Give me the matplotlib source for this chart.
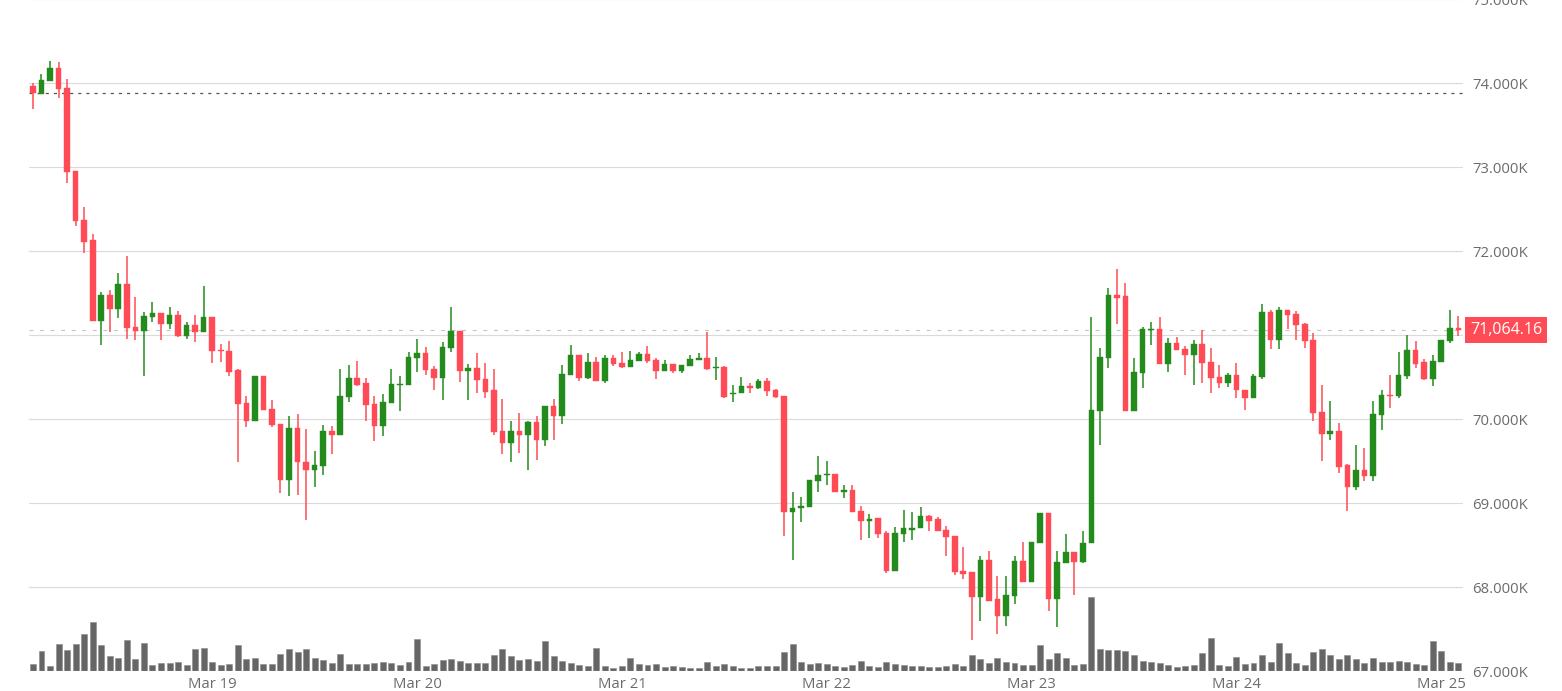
import matplotlib
matplotlib.use("Agg")
import matplotlib.pyplot as plt
import matplotlib.dates as mdates
import matplotlib.transforms as mtransforms
import numpy as np
import pandas as pd

plt.rcParams['font.family'] = ['Open Sans', 'DejaVu Sans']

# hourly candles, Mar 18 03:00 -> Mar 25 02:00
times = pd.date_range("2024-03-18 03:00", periods=168, freq="h")

opens = [73968, 73877, 74028, 74179, 73940, 72960, 72373, 72131, 71171, 71476,
         71310, 71607, 71100, 71052, 71222, 71270, 71139, 71246, 70996, 71123,
         71044, 71222, 70828, 70816, 70585, 70198, 69979, 70513, 70126, 69947,
         69272, 69895, 69496, 69400, 69448, 69855, 69815, 70266, 70497, 70433,
         70186, 69919, 70198, 70405, 70405, 70729, 70786, 70603, 70488, 70845,
         71048, 70571, 70611, 70480, 70345, 69861, 69714, 69857, 69814, 69964,
         69750, 70163, 70040, 70532, 70770, 70496, 70679, 70460, 70726, 70667,
         70622, 70690, 70773, 70709, 70578, 70658, 70578, 70634, 70701, 70725,
         70614, 70626, 70296, 70316, 70391, 70371, 70451, 70343, 70280, 68899,
         68942, 68954, 69269, 69336, 69347, 69139, 69155, 68908, 68789, 68821,
         68649, 68199, 68637, 68681, 68701, 68845, 68809, 68681, 68614, 68195,
         68179, 67880, 68323, 67861, 67653, 67896, 68319, 68060, 68526, 68885,
         67855, 68285, 68419, 68301, 68530, 70104, 70729, 71478, 71462, 70104,
         70546, 71064, 71080, 70662, 70904, 70841, 70761, 70896, 70682, 70502,
         70427, 70522, 70354, 70250, 70501, 71283, 70944, 71299, 71251, 71136,
         70944, 70086, 69831, 69863, 69452, 69189, 69400, 69324, 70050, 70294,
         70278, 70517, 70820, 70677, 70481, 70677, 70928, 71088]

highs = [74000, 74111, 74266, 74250, 74048, 72960, 72532, 72202, 71512, 71540,
         71738, 71944, 71460, 71282, 71393, 71270, 71337, 71286, 71163, 71246,
         71587, 71222, 70896, 70928, 70593, 70282, 70521, 70521, 70234, 69947,
         70035, 70066, 69883, 69620, 69931, 69915, 70593, 70649, 70689, 70493,
         70278, 70298, 70593, 70513, 70800, 70952, 70857, 70631, 70921, 71341,
         71048, 70659, 70786, 70667, 70599, 70238, 69976, 70075, 69984, 70044,
         70163, 70238, 70647, 70881, 70770, 70786, 70738, 70770, 70770, 70798,
         70813, 70801, 70869, 70725, 70709, 70658, 70642, 70769, 70793, 71036,
         70741, 70638, 70403, 70503, 70435, 70483, 70491, 70355, 70280, 69129,
         69078, 69277, 69559, 69504, 69347, 69223, 69223, 68964, 68869, 68821,
         68669, 68717, 68916, 68896, 68960, 68861, 68837, 68733, 68614, 68478,
         68179, 68371, 68438, 68131, 68131, 68371, 68538, 68538, 68885, 68885,
         68431, 68640, 68419, 68668, 71223, 70849, 71561, 71788, 71621, 70725,
         71099, 71159, 71215, 70964, 70976, 70873, 70944, 71060, 70853, 70650,
         70554, 70666, 70354, 70541, 71367, 71303, 71335, 71299, 71291, 71148,
         71024, 70409, 70222, 69955, 69472, 69695, 69655, 70222, 70350, 70533,
         70796, 71004, 70932, 70717, 70769, 70944, 71303, 71227]

lows = [73700, 73869, 74028, 73829, 72810, 72302, 71984, 71171, 70885, 71044,
        71210, 70960, 70949, 70512, 71163, 70949, 71080, 70976, 70960, 70921,
        71044, 70665, 70677, 70513, 69496, 69907, 69979, 70114, 69907, 69117,
        69085, 69101, 68805, 69193, 69342, 69588, 69815, 70210, 70393, 69975,
        69739, 69803, 70198, 70094, 70405, 70561, 70532, 70353, 70234, 70802,
        70444, 70226, 70317, 70254, 69817, 69591, 69488, 69603, 69393, 69520,
        69679, 69750, 69948, 70532, 70456, 70480, 70460, 70437, 70631, 70615,
        70622, 70690, 70670, 70483, 70578, 70554, 70554, 70634, 70701, 70590,
        70471, 70256, 70208, 70316, 70316, 70355, 70272, 70256, 68608, 68329,
        68783, 68954, 69133, 69217, 69135, 69060, 68896, 68566, 68582, 68582,
        68171, 68199, 68542, 68558, 68701, 68669, 68665, 68378, 68151, 68104,
        67378, 67594, 67841, 67442, 67542, 67805, 68060, 68060, 68526, 67720,
        67531, 68285, 67910, 68289, 68530, 69699, 70610, 71135, 70104, 70104,
        70375, 70881, 70662, 70566, 70825, 70522, 70407, 70431, 70315, 70375,
        70387, 70256, 70110, 70250, 70481, 70840, 70840, 71076, 70948, 70848,
        69979, 69500, 69759, 69360, 68913, 69157, 69260, 69264, 69871, 70134,
        70250, 70481, 70613, 70469, 70393, 70677, 70908, 70992]

closes = [73880, 74040, 74179, 73933, 72948, 72361, 72115, 71171, 71476, 71310,
          71607, 71091, 71052, 71230, 71270, 71139, 71246, 70992, 71123, 71044,
          71222, 70816, 70808, 70565, 70186, 69979, 70513, 70114, 69935, 69272,
          69895, 69488, 69400, 69460, 69855, 69815, 70282, 70497, 70413, 70174,
          69919, 70210, 70417, 70425, 70741, 70784, 70587, 70488, 70857, 71048,
          70575, 70611, 70468, 70329, 69849, 69714, 69861, 69814, 69964, 69750,
          70163, 70040, 70544, 70770, 70496, 70679, 70460, 70726, 70659, 70627,
          70701, 70773, 70690, 70578, 70658, 70578, 70642, 70713, 70725, 70602,
          70626, 70268, 70316, 70391, 70375, 70451, 70335, 70268, 68899, 68946,
          68966, 69277, 69340, 69348, 69135, 69155, 68896, 68785, 68817, 68637,
          68199, 68649, 68701, 68701, 68845, 68789, 68665, 68598, 68179, 68159,
          67880, 68323, 67841, 67653, 67904, 68319, 68060, 68538, 68885, 67855,
          68297, 68419, 68305, 68530, 70116, 70741, 71478, 71450, 70104, 70562,
          71076, 71080, 70662, 70904, 70829, 70761, 70896, 70670, 70495, 70427,
          70522, 70347, 70250, 70521, 71283, 70944, 71299, 71243, 71124, 70932,
          70070, 69831, 69863, 69436, 69189, 69400, 69324, 70062, 70294, 70278,
          70529, 70820, 70661, 70481, 70693, 70944, 71092, 71064.16]

volume = [7, 20, 5.3, 27.3, 21.3, 27.3, 37, 49.7, 26.3, 15,
          13.3, 31.3, 12.7, 28.3, 6.7, 8, 8.3, 9.3, 6.3, 22.7,
          23.7, 9, 6, 7.7, 26, 12, 13.3, 7.7, 7.3, 17,
          22.3, 19, 22.3, 13.3, 11.7, 8, 17.3, 7.7, 7, 7.7,
          8.3, 9.3, 8.3, 6, 9, 32.3, 5.3, 7.7, 11, 12.7,
          10.7, 8.7, 8.3, 8.3, 16.7, 22, 15.7, 11.7, 12.7, 10.7,
          30.7, 15.3, 10.3, 8, 6, 5.3, 23.3, 5.3, 3.7, 5.3,
          13.7, 7.3, 6, 7.7, 4, 5, 4.3, 3.7, 3.3, 9,
          5.3, 7, 5, 3.7, 3, 5.3, 5.3, 5.3, 19, 27.3,
          9, 7.3, 8.3, 7, 5.7, 4.7, 6, 10.3, 5.3, 4.7,
          9.3, 7.3, 6.7, 5.3, 5.3, 4, 4, 5.7, 7.3, 5.3,
          16, 12.3, 8.7, 13.3, 9.3, 8.3, 6.7, 6.3, 26.3, 12.7,
          18.3, 13.7, 6.7, 7.3, 74.3, 22, 21, 21.3, 20.3, 16.3,
          10.3, 9.3, 8.7, 6.3, 4, 5.3, 6.3, 18.3, 33.3, 6.3,
          5, 14, 7.3, 8, 16.7, 9.3, 28.3, 18, 8, 6.7,
          19.3, 22.3, 16, 12.7, 16.3, 12, 8, 13.3, 9.3, 9.3,
          10, 9.7, 7.7, 6.3, 30.3, 20.7, 9.3, 8.3]

last_price = 71064.16
ref_price = 73880
price_ticks = [67000, 68000, 69000, 70000, 71000, 72000, 73000, 74000, 75000]
day_ticks = pd.date_range("2024-03-19", "2024-03-25", freq="D")

UP = '#238b1c'
DOWN = '#ff4b55'

o = np.array(opens)
h = np.array(highs)
l = np.array(lows)
c = np.array(closes)
up = c >= o
cols = np.where(up, UP, DOWN)

fig = plt.figure(figsize=(15.62, 6.91), dpi=100)
ax = fig.add_axes([0.01837, 0.0285, 0.918, 0.9725])
axv = ax.twinx()
ax.set_zorder(axv.get_zorder() + 1)
ax.patch.set_visible(False)

hour = 1 / 24
xs = mdates.date2num(times)

# volume
axv.bar(xs, volume, width=0.7 * hour, color='#666666', edgecolor='#8a8a8a', linewidth=0.4)
axv.set_ylim(0, 672)
axv.set_yticks([])
for s in axv.spines.values():
    s.set_visible(False)

# grid
for p in price_ticks:
    ax.axhline(p, color='#dadada', lw=0.8, zorder=0)

ax.axhline(ref_price, color='#555555', lw=0.9, ls=(0, (2.5, 4)), zorder=1)
ax.axhline(last_price, color='#c4c4c4', lw=0.8, ls=(0, (3.5, 6)), zorder=1)

# candles
ax.vlines(xs, l, h, colors=cols, lw=1.1, zorder=2)
body = np.maximum(np.abs(c - o), 14)
ax.bar(xs, body, bottom=np.minimum(o, c), width=0.66 * hour, color=cols,
       edgecolor=cols, linewidth=0.3, zorder=3)

ax.set_ylim(67000, 75000)
ax.set_xlim(xs[0] - 0.5 * hour, xs[-1] + 0.5 * hour)
axv.set_xlim(ax.get_xlim())

ax.yaxis.tick_right()
ax.set_yticks(price_ticks)
ax.yaxis.set_major_formatter(plt.FuncFormatter(lambda v, pos: f"{v/1000:.3f}K"))
ax.tick_params(axis='y', length=0, pad=7, labelsize=10.7, labelcolor='#6b6b6b')

ax.set_xticks(mdates.date2num(day_ticks))
ax.xaxis.set_major_formatter(mdates.DateFormatter('%b %d'))
ax.tick_params(axis='x', length=0, pad=4, labelsize=10.7, labelcolor='#6b6b6b')

for s in ax.spines.values():
    s.set_visible(False)

# last price tag
trans = mtransforms.blended_transform_factory(ax.transAxes, ax.transData)
ax.text(1.0052, last_price, f"{last_price:,.2f}", transform=trans, ha='left', va='center',
        color='white', fontsize=11.5, clip_on=False, zorder=5,
        bbox=dict(boxstyle='square,pad=0.32', fc=DOWN, ec='none'))

fig.savefig('out.png', dpi=100)
